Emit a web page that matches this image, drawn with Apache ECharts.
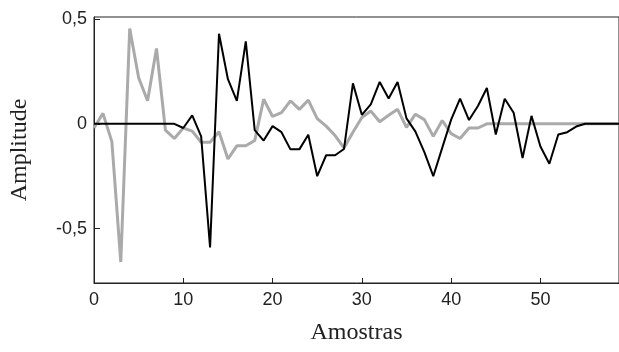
<!DOCTYPE html>
<html>
<head>
<meta charset="utf-8">
<script src="https://cdn.jsdelivr.net/npm/echarts@6/dist/echarts.min.js"></script>
<style>
  html, body { margin: 0; padding: 0; background: #fff; }
  #chart { width: 619px; height: 352px; }
</style>
</head>
<body>
<div id="chart"></div>
<script>
// sample index 0..59
var samples = [];
for (var k = 0; k < 60; k++) samples.push(k);

// gray signal
var graySignal = [
  -0.02, 0.05, -0.085, -0.66, 0.455, 0.22, 0.11, 0.36, -0.03, -0.07,
  -0.02, -0.035, -0.088, -0.088, -0.038, -0.168, -0.105, -0.105, -0.08, 0.117,
  0.035, 0.053, 0.11, 0.069, 0.113, 0.025, -0.011, -0.056, -0.115, -0.04,
  0.03, 0.061, 0.01, 0.041, 0.069, -0.017, 0.046, 0.02, -0.06, 0.016,
  -0.047, -0.07, -0.02, -0.02, 0, 0, 0, 0, 0, 0,
  0, 0, 0, 0, 0, 0, 0, 0, 0, 0
];

// black signal
var blackSignal = [
  0, 0, 0, 0, 0, 0, 0, 0, 0, 0,
  -0.02, 0.04, -0.06, -0.59, 0.43, 0.213, 0.11, 0.394, -0.03, -0.08,
  -0.011, -0.04, -0.122, -0.122, -0.052, -0.25, -0.15, -0.15, -0.12, 0.193,
  0.043, 0.093, 0.2, 0.121, 0.2, 0.026, -0.037, -0.135, -0.25, -0.115,
  0.02, 0.12, 0.018, 0.085, 0.171, -0.051, 0.12, 0.053, -0.163, 0.038,
  -0.108, -0.191, -0.051, -0.04, -0.013, 0, 0, 0, 0, 0
];

var xTicks = [0, 10, 20, 30, 40, 50];
var yTicks = [-0.5, 0, 0.5];

function pairs(vals) {
  return samples.map(function (s, i) { return [s, vals[i]]; });
}

var myChart = echarts.init(document.getElementById('chart'));

var option = {
  backgroundColor: '#fff',
  animation: false,
  grid: {
    left: 90.5, right: -1, top: 17, bottom: 69,
    show: true, borderColor: '#222', borderWidth: 1, backgroundColor: 'transparent'
  },
  xAxis: {
    type: 'value',
    min: 0,
    max: 58.8,
    name: 'Amostras',
    nameLocation: 'middle',
    nameGap: 38,
    nameTextStyle: { fontFamily: 'Liberation Serif', fontSize: 24, color: '#222' },
    axisLine: { show: true, onZero: false, lineStyle: { color: '#222', width: 1 } },
    axisTick: { show: true, inside: true, length: 5, customValues: xTicks.slice(1), lineStyle: { color: '#222' } },
    axisLabel: {
      customValues: xTicks, margin: 8,
      fontFamily: 'Liberation Sans', fontSize: 18, color: '#222'
    },
    splitLine: { show: false }
  },
  yAxis: {
    type: 'value',
    min: -0.76,
    max: 0.51,
    name: 'Amplitude',
    nameLocation: 'middle',
    nameRotate: 90,
    nameGap: 62,
    nameTextStyle: { fontFamily: 'Liberation Serif', fontSize: 24, color: '#222' },
    axisLine: { show: true, lineStyle: { color: '#222', width: 1 } },
    axisTick: { show: true, inside: true, length: 6, customValues: yTicks, lineStyle: { color: '#222' } },
    axisLabel: {
      customValues: yTicks, margin: 7,
      fontFamily: 'Liberation Sans', fontSize: 18, color: '#222',
      formatter: function (v) { return String(v).replace('.', ','); }
    },
    splitLine: { show: false }
  },
  series: [{
    name: 'gray',
    type: 'line',
    data: pairs(graySignal),
    showSymbol: false,
    clip: true,
    lineStyle: { color: '#aaaaaa', width: 3 }
  }, {
    name: 'black',
    type: 'line',
    data: pairs(blackSignal),
    showSymbol: false,
    clip: true,
    lineStyle: { color: '#000', width: 2 }
  }]
};

myChart.setOption(option);
</script>
</body>
</html>
